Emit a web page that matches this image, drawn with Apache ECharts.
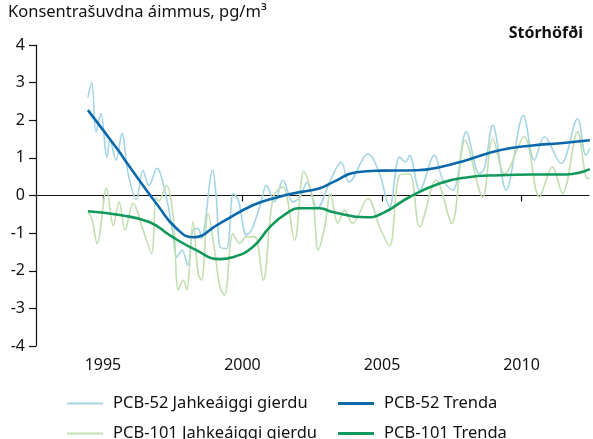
<!DOCTYPE html>
<html>
<head>
<meta charset="utf-8">
<script src="https://cdn.jsdelivr.net/npm/echarts@6/dist/echarts.min.js"></script>
<style>
html,body{margin:0;padding:0;background:#fff;}
#c{width:593px;height:439px;}
</style>
</head>
<body>
<div id="c"></div>
<script>
const yTicks = [-4,-3,-2,-1,0,1,2,3,4];
const xTicks = [1995, 2000, 2005, 2010];
const seriesNames = ['PCB-52 Jahkeáiggi gierdu','PCB-52 Trenda','PCB-101 Jahkeáiggi gierdu','PCB-101 Trenda'];

const pcb52Monthly = [
 [1994.46,2.6],[1994.6,3.0],[1994.75,1.68],[1994.93,2.18],[1995.14,1.01],[1995.25,1.47],
 [1995.47,0.94],[1995.68,1.65],[1995.9,0.59],[1996.2,-0.1],[1996.43,0.67],[1996.65,0.27],
 [1996.93,0.72],[1997.3,-0.15],[1997.5,-1.0],[1997.65,-1.64],[1997.83,-1.45],[1998.04,-1.86],
 [1998.22,-0.93],[1998.41,-0.88],[1998.53,-1.14],[1998.93,0.67],[1999.07,-0.12],[1999.19,-1.36],
 [1999.43,-1.41],[1999.67,0.05],[1999.85,-0.12],[2000.14,-1.05],[2000.32,-0.92],[2000.62,-0.3],
 [2000.86,0.27],[2001.16,-0.17],[2001.45,0.41],[2001.81,-0.17],[2002.05,-0.05],[2002.31,0.34],
 [2002.68,-0.33],[2003.18,0.45],[2003.54,0.89],[2003.82,0.36],[2004.5,1.11],[2004.91,0.59],
 [2005.27,-0.3],[2005.63,1.02],[2005.84,0.89],[2005.99,1.07],[2006.35,0.14],[2006.88,1.07],
 [2007.18,0.41],[2007.54,0.14],[2008.02,1.69],[2008.49,0.58],[2008.67,0.72],[2008.97,1.87],
 [2009.45,0.14],[2010.07,2.13],[2010.46,0.94],[2010.82,1.56],[2011.42,0.85],[2012.01,2.04],
 [2012.31,1.07],[2012.45,1.25]
];
const pcb52Trend = [
 [1994.46,2.27],[1995.6,1.15],[1995.79,0.94],[1997.0,-0.3],[1997.6,-0.85],[1998.22,-1.11],
 [1999.19,-0.74],[2000.37,-0.26],[2001.23,-0.05],[2002.05,0.09],[2002.77,0.19],[2003.23,0.35],
 [2004.09,0.62],[2005.0,0.66],[2006.24,0.67],[2007.06,0.75],[2008.03,0.94],[2009.21,1.2],
 [2010.39,1.33],[2011.4,1.39],[2012.45,1.47]
];
const pcb101Monthly = [
 [1994.46,-0.45],[1994.6,-0.6],[1994.79,-1.28],[1995.13,0.19],[1995.37,-0.8],[1995.58,-0.17],
 [1995.79,-0.92],[1996.08,-0.21],[1996.44,-0.92],[1996.74,-1.54],[1996.9,-0.05],[1997.0,-0.15],
 [1997.28,0.27],[1997.52,-0.57],[1997.7,-2.51],[1997.88,-2.25],[1998.0,-2.51],[1998.23,-0.7],
 [1998.41,-2.07],[1998.53,-2.25],[1998.77,-0.48],[1999.0,-1.45],[1999.19,-2.43],[1999.36,-2.65],
 [1999.66,-1.01],[1999.9,-1.27],[2000.14,-1.1],[2000.44,-1.1],[2000.74,-2.25],[2001.1,-0.04],
 [2001.45,0.23],[2001.87,-1.19],[2002.2,0.64],[2002.53,-0.15],[2002.71,-1.45],[2002.95,-0.83],
 [2003.15,0.05],[2003.42,-0.74],[2003.66,-0.39],[2003.94,-0.74],[2004.5,-0.08],[2004.91,-0.83],
 [2005.27,-1.34],[2005.63,0.54],[2005.99,0.58],[2006.35,-0.83],[2006.94,0.41],[2007.5,-0.74],
 [2007.98,1.47],[2008.61,-0.04],[2008.97,1.51],[2009.4,0.58],[2010.1,1.56],[2010.64,-0.04],
 [2011.11,0.76],[2011.47,0.05],[2012.01,1.69],[2012.31,0.49],[2012.45,0.45]
];
const pcb101Trend = [
 [1994.46,-0.42],[1995.6,-0.52],[1996.68,-0.71],[1997.4,-1.06],[1998.36,-1.46],[1999.19,-1.69],
 [1999.65,-1.64],[2000.37,-1.37],[2000.98,-0.84],[2001.59,-0.47],[2002.05,-0.34],[2002.77,-0.34],
 [2003.23,-0.44],[2004.45,-0.58],[2005.03,-0.47],[2005.99,-0.04],[2007.06,0.32],[2008.03,0.48],
 [2009.21,0.54],[2010.4,0.56],[2011.6,0.56],[2012.45,0.7]
];

const colors = ['#a3d5e4','#0b68ab','#c2dfaf','#10995a'];
const FONT = 'Noto Sans';
const TXT = '#111';

const chart = echarts.init(document.getElementById('c'), null, {renderer:'canvas'});

function legendAt(name, left, top, h){
  return {
    data:[name], left:left, top:top, orient:'horizontal', padding:0,
    icon:'rect', itemWidth:36, itemHeight:h, itemGap:10,
    textStyle:{fontFamily:FONT, fontSize:16.5, color:TXT, padding:[0,0,0,5]},
    selectedMode:false
  };
}

chart.setOption({
  animation:false,
  backgroundColor:'#fff',
  title:[
    {text:'Konsentrašuvdna áimmus, pg/m³', left:8, top:4, padding:0,
     textStyle:{fontFamily:FONT, fontSize:16.5, fontWeight:'normal', color:TXT}},
    {text:'Stórhöfði', right:10, top:25, padding:0,
     textStyle:{fontFamily:FONT, fontSize:16, fontWeight:'bold', color:TXT}}
  ],
  legend:[
    legendAt(seriesNames[0], 67, 395, 2),
    legendAt(seriesNames[1], 338, 395, 3),
    legendAt(seriesNames[2], 67, 425, 2),
    legendAt(seriesNames[3], 338, 425, 3)
  ],
  grid:{left:36, right:4, top:45, bottom:93, containLabel:false},
  xAxis:{
    type:'value', min:1992.6, max:2012.42,
    splitLine:{show:false},
    axisLine:{show:true, lineStyle:{color:'#111', width:1.2}},
    axisTick:{show:true, length:6, customValues:xTicks, lineStyle:{color:'#111', width:1.2}},
    axisLabel:{customValues:xTicks, margin:11, fontFamily:FONT, fontSize:16, color:TXT,
      formatter:v=>String(v)}
  },
  yAxis:{
    type:'value', min:-4, max:4, interval:1,
    splitLine:{show:false},
    axisLine:{show:true, lineStyle:{color:'#111', width:1.2}},
    axisTick:{show:true, length:7, lineStyle:{color:'#111', width:1.2}},
    axisLabel:{margin:11, fontFamily:FONT, fontSize:16, color:TXT,
      formatter:v=>String(v)}
  },
  series:[
    {name:seriesNames[0], type:'line', data:pcb52Monthly, smooth:0.35, showSymbol:false,
     lineStyle:{width:1.6, color:colors[0]}, itemStyle:{color:colors[0]}, z:1},
    {name:seriesNames[2], type:'line', data:pcb101Monthly, smooth:0.35, showSymbol:false,
     lineStyle:{width:1.6, color:colors[2]}, itemStyle:{color:colors[2]}, z:1},
    {name:seriesNames[1], type:'line', data:pcb52Trend, smooth:0.5, showSymbol:false,
     lineStyle:{width:2.6, color:colors[1]}, itemStyle:{color:colors[1]}, z:3},
    {name:seriesNames[3], type:'line', data:pcb101Trend, smooth:0.5, showSymbol:false,
     lineStyle:{width:2.6, color:colors[3]}, itemStyle:{color:colors[3]}, z:3}
  ]
});
</script>
</body>
</html>
